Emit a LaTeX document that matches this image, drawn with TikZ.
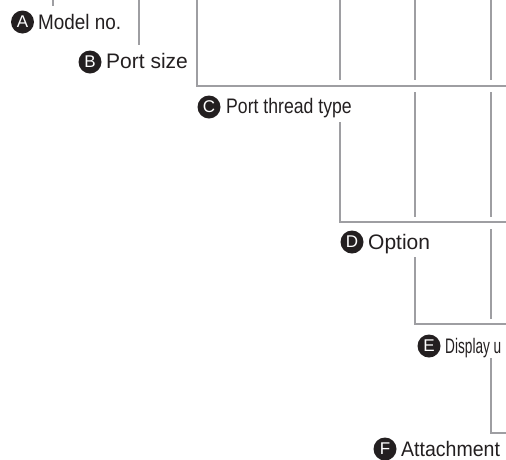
\documentclass[tikz,border=0pt]{standalone}
\usepackage{fontspec}
\setmainfont{Liberation Sans}
\usepackage{graphicx}
\definecolor{leadergray}{RGB}{158,158,162}
\definecolor{ink}{RGB}{35,31,32}
\begin{document}
\begin{tikzpicture}[x=1pt,y=-1pt,
  leader/.style={draw=leadergray, line width=2pt, line join=miter},
  badge/.style={circle, fill=ink, inner sep=0pt, minimum size=23pt, text=white, font=\fontsize{17}{17}\selectfont},
  lbl/.style={anchor=base west, inner sep=0pt, text=ink, font=\fontsize{21}{21}\selectfont}]
\useasboundingbox (0,0) rectangle (506,459);
\clip (0,0) rectangle (506,459);
% leader line end points
\coordinate (a0) at (53,0);   \coordinate (a1) at (53,6);
\coordinate (b0) at (139,0);  \coordinate (b1) at (139,45);
\coordinate (c0) at (197,0);  \coordinate (c1) at (197,86);  \coordinate (c2) at (506,86);
\coordinate (d0) at (340,0);  \coordinate (d1) at (340,80);
\coordinate (d2) at (340,122);\coordinate (d3) at (340,222); \coordinate (d4) at (506,222);
\coordinate (e0) at (415,0);  \coordinate (e1) at (415,80);
\coordinate (e2) at (415,92); \coordinate (e3) at (415,217);
\coordinate (e4) at (415,257);\coordinate (e5) at (415,324); \coordinate (e6) at (506,324);
\coordinate (f0) at (491,0);  \coordinate (f1) at (491,80);
\coordinate (f2) at (491,92); \coordinate (f3) at (491,217);
\coordinate (f4) at (491,229);\coordinate (f5) at (491,319);
\coordinate (f6) at (491,358);\coordinate (f7) at (491,433); \coordinate (f8) at (506,433);
\draw[leader] (a0) -- (a1);
\draw[leader] (b0) -- (b1);
\draw[leader] (c0) -- (c1) -- (c2);
\draw[leader] (d0) -- (d1);
\draw[leader] (d2) -- (d3) -- (d4);
\draw[leader] (e0) -- (e1);
\draw[leader] (e2) -- (e3);
\draw[leader] (e4) -- (e5) -- (e6);
\draw[leader] (f0) -- (f1);
\draw[leader] (f2) -- (f3);
\draw[leader] (f4) -- (f5);
\draw[leader] (f6) -- (f7) -- (f8);
% labels
\node[badge] (bA) at (22.5,22) {A};
\node[lbl] (tA) at (38,29.5) {\scalebox{0.9}[1]{Model no.}};
\node[badge] (bB) at (90,62) {B};
\node[lbl] (tB) at (106,68) {Port size};
\node[badge] (bC) at (209,107) {C};
\node[lbl] (tC) at (226,113) {\scalebox{0.84}[1]{Port thread type}};
\node[badge] (bD) at (352,242) {D};
\node[lbl] (tD) at (368,249) {Option};
\node[badge] (bE) at (429,346) {E};
\node[lbl] (tE) at (445,353) {\scalebox{0.65}[1]{Display u}};
\node[badge] (bF) at (385,449) {F};
\node[lbl] (tF) at (401,456) {\scalebox{0.93}[1]{Attachment}};
\end{tikzpicture}
\end{document}
